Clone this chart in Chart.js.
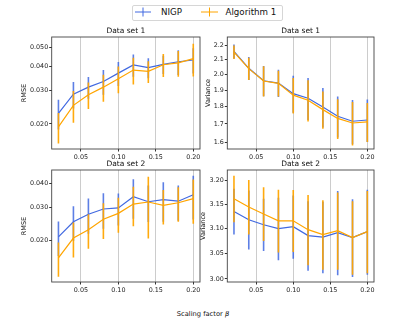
<!DOCTYPE html>
<html>
<head>
<meta charset="utf-8">
<script src="https://cdn.jsdelivr.net/npm/chart.js@4.4.1/dist/chart.umd.min.js"></script>
<style>
  body { margin: 0; background: #fff; font-family: "DejaVu Sans", sans-serif; }
  #fig { position: relative; width: 415px; height: 323px; overflow: hidden; background: #fff; }
  #fig canvas { position: absolute; }
  .legend-box { position: absolute; left: 132px; top: 5px; width: 149px; height: 14px;
                border: 1px solid #d6d6d6; border-radius: 2px; background: #fff; }
  #handles { position: absolute; left: 0; top: 0; }
  .legend-text { position: absolute; top: 7px; font-size: 8.7px; line-height: 10px; color: #111; white-space: nowrap; }
  #xlabel { position: absolute; left: 0; width: 406px; top: 310px; text-align: center;
            font-size: 6.7px; line-height: 8px; color: #111; }
</style>
</head>
<body>
<div id="fig">
  <div class="legend-box"></div>
  <svg id="handles" width="300" height="24">
    <line x1="135" y1="12" x2="151" y2="12" stroke="#4169e1" stroke-width="1"/>
    <line x1="143" y1="7.5" x2="143" y2="16.5" stroke="#4169e1" stroke-width="1"/>
    <line x1="201" y1="12" x2="218" y2="12" stroke="#ffa500" stroke-width="1"/>
    <line x1="209.5" y1="7.5" x2="209.5" y2="16.5" stroke="#ffa500" stroke-width="1"/>
  </svg>
  <div class="legend-text" style="left:161px">NIGP</div>
  <div class="legend-text" style="left:225.5px">Algorithm 1</div>

  <canvas id="rmse1" width="206" height="140" style="left:0px;top:27px"></canvas>
  <canvas id="var1" width="180" height="140" style="left:200px;top:27px"></canvas>
  <canvas id="rmse2" width="206" height="140" style="left:0px;top:160px"></canvas>
  <canvas id="var2" width="182" height="140" style="left:198px;top:160px"></canvas>

  <div id="xlabel">Scaling factor <i>β</i></div>
</div>

<script>
const FONT = '"DejaVu Sans", sans-serif';
const BLUE = '#4169e1';
const ORANGE = '#ffa500';

// scaling factor beta (x axis)
const betas = [0.02, 0.04, 0.06, 0.08, 0.10, 0.12, 0.14, 0.16, 0.18, 0.20];
const xTicks = [0.05, 0.10, 0.15, 0.20];

// Data set 1 - RMSE (mean and error bar half-width)
const rmse1Nigp = [0.0227, 0.0286, 0.0311, 0.0333, 0.0368, 0.0406, 0.0393, 0.0409, 0.0422, 0.0431];
const rmse1NigpErr = [0.0040, 0.0045, 0.0040, 0.0049, 0.0053, 0.0054, 0.0047, 0.0045, 0.0062, 0.0065];
const rmse1Alg = [0.0193, 0.0250, 0.0284, 0.0311, 0.0344, 0.0382, 0.0376, 0.0407, 0.0416, 0.0438];
const rmse1AlgErr = [0.0035, 0.0047, 0.0045, 0.0050, 0.0055, 0.0061, 0.0049, 0.0056, 0.0064, 0.0085];

// Data set 1 - Variance
const var1Nigp = [2.159, 2.042, 1.960, 1.945, 1.878, 1.850, 1.797, 1.743, 1.715, 1.722];
const var1NigpErr = [0.050, 0.078, 0.098, 0.088, 0.115, 0.128, 0.117, 0.117, 0.125, 0.120];
const var1Alg = [2.154, 2.040, 1.958, 1.943, 1.869, 1.838, 1.782, 1.731, 1.705, 1.711];
const var1AlgErr = [0.048, 0.075, 0.098, 0.083, 0.109, 0.125, 0.109, 0.113, 0.122, 0.110];

// Data set 2 - RMSE
const rmse2Nigp = [0.0209, 0.0251, 0.0275, 0.0293, 0.0297, 0.0340, 0.0320, 0.0328, 0.0322, 0.0348];
const rmse2NigpErr = [0.0043, 0.0052, 0.0058, 0.0062, 0.0057, 0.0080, 0.0070, 0.0077, 0.0068, 0.0090];
const rmse2Alg = [0.0162, 0.0206, 0.0228, 0.0259, 0.0278, 0.0311, 0.0319, 0.0306, 0.0316, 0.0332];
const rmse2AlgErr = [0.0033, 0.0043, 0.0047, 0.0055, 0.0058, 0.0073, 0.0114, 0.0063, 0.0065, 0.0087];

// Data set 2 - Variance
const var2Nigp = [3.135, 3.118, 3.108, 3.100, 3.104, 3.086, 3.083, 3.092, 3.082, 3.094];
const var2NigpErr = [0.047, 0.060, 0.053, 0.063, 0.064, 0.070, 0.072, 0.085, 0.078, 0.086];
const var2Alg = [3.161, 3.144, 3.130, 3.116, 3.116, 3.098, 3.088, 3.096, 3.082, 3.094];
const var2AlgErr = [0.048, 0.056, 0.055, 0.064, 0.063, 0.071, 0.070, 0.078, 0.074, 0.083];

// y tick labels per panel
const rmse1Ticks = [0.02, 0.03, 0.04, 0.05];
const rmse2Ticks = [0.02, 0.03, 0.04];
const var1Ticks = [1.6, 1.7, 1.8, 1.9, 2.0, 2.1, 2.2];
const var2Ticks = [3.00, 3.05, 3.10, 3.15, 3.20];

// matplotlib-like frame around the axes
const framePlugin = {
    id: 'frame',
    afterDraw(chart) {
        const { ctx, chartArea: a } = chart;
        ctx.save();
        ctx.strokeStyle = '#444';
        ctx.lineWidth = 0.9;
        ctx.strokeRect(a.left, a.top, a.right - a.left, a.bottom - a.top);
        ctx.restore();
    }
};

function errorBars(means, errs, color, order) {
    return {
        type: 'bar',
        data: betas.map((b, i) => ({ x: b, y: [means[i] - errs[i], means[i] + errs[i]] })),
        backgroundColor: color,
        barThickness: 1.6,
        inflateAmount: 0,
        grouped: false,
        order: order
    };
}

function meanLine(means, color, order) {
    return {
        type: 'line',
        data: betas.map((b, i) => ({ x: b, y: means[i] })),
        borderColor: color,
        borderWidth: 1.2,
        pointRadius: 0,
        fill: false,
        tension: 0,
        order: order
    };
}

function makePanel(id, p) {
    const tickFont = { family: FONT, size: 6.4 };
    new Chart(document.getElementById(id), {
        type: 'line',
        data: {
            datasets: [
                errorBars(p.nigp, p.nigpErr, 'rgba(65,105,225,0.85)', 4),
                meanLine(p.nigp, BLUE, 3),
                errorBars(p.alg, p.algErr, 'rgba(255,165,0,0.95)', 2),
                meanLine(p.alg, ORANGE, 1)
            ]
        },
        options: {
            responsive: false,
            animation: false,
            layout: { padding: { right: 6 } },
            plugins: {
                legend: { display: false },
                tooltip: { enabled: false },
                title: {
                    display: true,
                    text: p.title,
                    fullSize: false,
                    color: '#111',
                    font: { family: FONT, size: 7.5, weight: 'normal', lineHeight: 1.2 },
                    padding: { top: 0, bottom: 1 }
                }
            },
            scales: {
                x: {
                    type: 'linear',
                    min: 0.011,
                    max: 0.209,
                    offset: false,
                    afterBuildTicks: s => { s.ticks = xTicks.map(v => ({ value: v })); },
                    afterFit: s => { s.height = 18; },
                    ticks: { callback: v => v.toFixed(2), font: tickFont, color: '#222', padding: 2, maxRotation: 0, autoSkip: false },
                    grid: { color: '#cccccc', lineWidth: 1, tickColor: '#333', tickLength: 2.5, offset: false },
                    border: { display: false }
                },
                y: {
                    type: 'logarithmic',
                    min: p.yMin,
                    max: p.yMax,
                    afterBuildTicks: s => { s.ticks = p.yTicks.map(v => ({ value: v })); },
                    afterFit: s => { s.width = p.axisWidth; },
                    ticks: { callback: v => Number(v).toFixed(p.digits), font: tickFont, color: '#222', padding: 1 },
                    grid: { drawOnChartArea: false, tickColor: '#333', tickLength: 2.5 },
                    border: { display: false },
                    title: {
                        display: true,
                        text: p.yLabel,
                        color: '#111',
                        font: { family: FONT, size: 6.5, lineHeight: 1.2 },
                        padding: { top: p.titlePad, bottom: 0 }
                    }
                }
            }
        },
        plugins: [framePlugin]
    });
}

makePanel('rmse1', {
    title: 'Data set 1', yLabel: 'RMSE', nigp: rmse1Nigp, nigpErr: rmse1NigpErr, alg: rmse1Alg, algErr: rmse1AlgErr,
    yMin: 0.0148, yMax: 0.0568, yTicks: rmse1Ticks, digits: 3, axisWidth: 51.7, titlePad: 20
});
makePanel('var1', {
    title: 'Data set 1', yLabel: 'Variance', nigp: var1Nigp, nigpErr: var1NigpErr, alg: var1Alg, algErr: var1AlgErr,
    yMin: 1.565, yMax: 2.264, yTicks: var1Ticks, digits: 1, axisWidth: 27.3, titlePad: 4.4
});
makePanel('rmse2', {
    title: 'Data set 2', yLabel: 'RMSE', nigp: rmse2Nigp, nigpErr: rmse2NigpErr, alg: rmse2Alg, algErr: rmse2AlgErr,
    yMin: 0.0121, yMax: 0.0470, yTicks: rmse2Ticks, digits: 3, axisWidth: 51.7, titlePad: 20
});
makePanel('var2', {
    title: 'Data set 2', yLabel: 'Variance', nigp: var2Nigp, nigpErr: var2NigpErr, alg: var2Alg, algErr: var2AlgErr,
    yMin: 2.994, yMax: 3.221, yTicks: var2Ticks, digits: 2, axisWidth: 29.3, titlePad: 1.4
});
</script>
</body>
</html>
